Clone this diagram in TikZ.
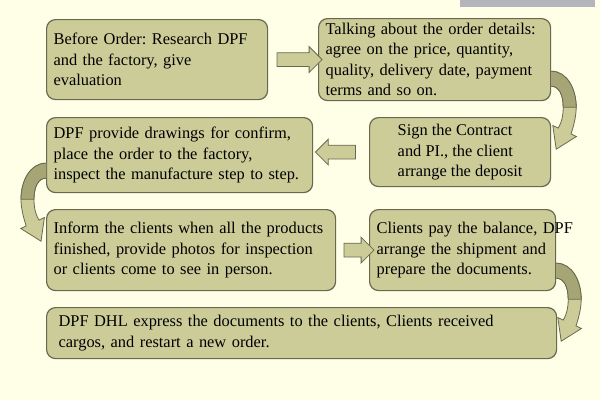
\documentclass[tikz,border=0pt]{standalone}
\usepackage{fontspec}
\setmainfont{Liberation Serif}
\usetikzlibrary{shapes.arrows}
\definecolor{paper}{RGB}{255,255,232}
\definecolor{boxfill}{RGB}{204,204,153}
\definecolor{boxline}{RGB}{105,105,80}
\definecolor{arrowback}{RGB}{165,165,118}
\definecolor{topbar}{RGB}{180,180,188}
\frenchspacing

\begin{document}
\begin{tikzpicture}[x=1pt,y=-1pt,
    stepbox/.style={draw=boxline, fill=boxfill, line width=1.2pt, rounded corners=9pt,
      anchor=north west, align=left, inner xsep=7pt, inner ysep=0pt,
      font=\fontsize{16.4}{20.5}\selectfont},
    blockarr/.style={single arrow, draw=boxline, fill=boxfill, line width=0.8pt,
      minimum width=25pt, single arrow head extend=6pt, inner xsep=0pt, inner ysep=6.5pt},
    bendarrow/.pic={
      \path[draw=boxline, fill=boxfill, line width=0.8pt]
        (0,0) .. controls (16,0) and (25,18) .. (25,36)
        .. controls (25,46) and (22,56) .. (19.8,62.7) -- (25.2,65.3) -- (5,78)
        -- (1.6,54.3) -- (7,56.9) .. controls (11,50) and (12,44) .. (12,36)
        .. controls (12,24) and (8,15) .. (0,15);
      \path[draw=boxline, fill=arrowback, line width=0.8pt]
        (0,0) .. controls (16,0) and (25,18) .. (25,36) -- (12,36)
        .. controls (12,24) and (8,15) .. (0,15);
    }]
  \useasboundingbox (0,0) rectangle (600,400);
  \fill[paper] (0,0) rectangle (600,400);
  \fill[topbar] (460,0) rectangle (595,7);

  \node[stepbox, text width=207pt, minimum height=80pt] (research) at (46,19)
    {Before Order: Research DPF\\and the factory, give\\evaluation};
  \node[stepbox, text width=218pt, minimum height=82pt] (details) at (318,18)
    {Talking about the order details:\\agree on the price, quantity,\\quality, delivery date, payment\\terms and so on.};
  \node[stepbox, text width=252pt, minimum height=75pt] (drawings) at (46,117)
    {DPF provide drawings for confirm,\\place the order to the factory,\\\mbox{inspect the manufacture step to step.}};
  \node[stepbox, minimum width=181pt, minimum height=69pt] (contract) at (369,117)
    {Sign the Contract\\and PI., the client\\arrange the deposit};
  \node[stepbox, text width=275pt, minimum height=81pt] (inform) at (46,209)
    {\mbox{Inform the clients when all the products}\\finished, provide photos for inspection\\or clients come to see in person.};
  \node[stepbox, text width=172pt, minimum height=81pt] (balance) at (369,209)
    {\mbox{Clients pay the balance, DPF}\\\mbox{arrange the shipment and}\\prepare the documents.};
  \node[stepbox, text width=486pt, inner xsep=12pt, minimum height=51pt] (express) at (46,307)
    {DPF DHL express the documents to the clients, Clients received\\cargos, and restart a new order.};

  % block arrows
  \path (research.east) -- (details.west)
    node[blockarr, pos=0.56, minimum height=45pt] (go1) {};
  \path (contract.west) -- (contract.west -| drawings.east)
    node[blockarr, shape border rotate=180, pos=0.54, minimum height=40pt] (go2) {};
  \path (inform.east) -- (balance.west)
    node[blockarr, pos=0.59, minimum height=30pt] (go3) {};

  % curved arrows
  \pic at ([yshift=30pt]details.south east) {bendarrow};
  \pic[xscale=-1] at ([yshift=30pt]drawings.south west) {bendarrow};
  \pic at ([yshift=28pt]balance.south east) {bendarrow};
\end{tikzpicture}
\end{document}
